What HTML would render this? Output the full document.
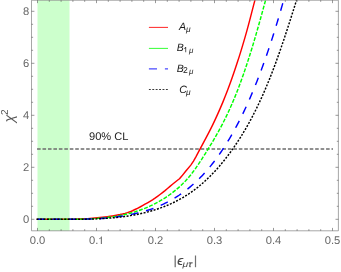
<!DOCTYPE html>
<html><head><meta charset="utf-8"><title>chi2</title>
<style>
html,body{margin:0;padding:0;background:#fff;}
body{width:341px;height:272px;overflow:hidden;}
svg{display:block;will-change:transform;text-rendering:geometricPrecision;font-family:"Liberation Sans",sans-serif;}
</style></head><body>
<svg width="341" height="272" viewBox="0 0 341 272">
<rect width="341" height="272" fill="#fff"/>
<rect x="37.5" y="0.25" width="32" height="230.55" fill="#ccffcc"/>
<clipPath id="c"><rect x="31.5" y="0.25" width="306.9" height="230.55"/></clipPath>
<g clip-path="url(#c)" fill="none" stroke-width="1.45">
<path d="M37.05,149 H333" stroke="#6c6c6c" stroke-width="1.5" stroke-dasharray="3.6 1.853"/>
<path d="M36.75,219.30 L70.00,219.20 L72.50,219.17 L75.00,219.10 L77.50,219.02 L80.00,218.93 L82.50,218.84 L85.00,218.72 L87.50,218.60 L90.00,218.45 L92.50,218.28 L95.00,218.07 L97.50,217.83 L100.00,217.58 L102.50,217.30 L105.00,217.00 L107.50,216.66 L110.00,216.30 L112.50,215.92 L115.00,215.51 L117.50,215.05 L120.00,214.55 L122.50,213.99 L125.00,213.35 L127.50,212.63 L130.00,211.80 L132.50,210.73 L135.00,209.50 L137.50,208.28 L140.00,207.00 L142.50,205.63 L145.00,204.20 L147.50,202.77 L150.00,201.30 L152.50,199.80 L155.00,198.20 L157.50,196.40 L160.00,194.50 L162.50,192.58 L165.00,190.60 L167.50,188.52 L170.00,186.38 L172.50,184.29 L175.00,182.26 L177.50,180.27 L179.50,178.70 L181.80,176.10 L185.65,171.30 L190.80,165.10 L193.49,161.10 L195.76,157.10 L197.86,153.10 L199.98,149.10 L202.14,145.10 L204.28,141.10 L206.41,137.10 L208.51,133.10 L210.57,129.10 L212.56,125.10 L214.46,121.10 L216.31,117.10 L218.12,113.10 L219.88,109.10 L221.60,105.10 L223.28,101.10 L224.91,97.10 L226.49,93.10 L228.03,89.10 L229.52,85.10 L230.97,81.10 L232.39,77.10 L233.77,73.10 L235.13,69.10 L236.45,65.10 L237.76,61.10 L239.04,57.10 L240.29,53.10 L241.52,49.10 L242.72,45.10 L243.90,41.10 L245.07,37.10 L246.21,33.10 L247.32,29.10 L248.41,25.10 L249.47,21.10 L250.51,17.10 L251.54,13.10 L252.58,9.10 L253.61,5.10 L254.67,1.10 L255.74,-2.90 L256.30,-5.00" stroke="#ff0000" stroke-linejoin="round"/>
<path d="M37.50,219.30 L39.48,219.27 L41.47,219.24 L43.46,219.22 L45.45,219.21 L47.44,219.21 L49.44,219.20 L51.44,219.21 L53.44,219.21 L55.44,219.22 L57.45,219.22 L59.45,219.23 L61.46,219.24 L63.47,219.25 L65.48,219.25 L67.49,219.25 L69.50,219.25 L71.51,219.25 L73.52,219.23 L75.53,219.22 L77.54,219.19 L79.55,219.16 L81.56,219.12 L83.56,219.07 L85.57,219.01 L87.57,218.94 L89.58,218.86 L91.58,218.76 L93.58,218.65 L95.58,218.53 L97.57,218.40 L99.56,218.24 L101.55,218.07 L103.54,217.89 L105.52,217.68 L107.50,217.46 L109.48,217.22 L111.45,216.95 L113.42,216.67 L115.38,216.36 L117.34,216.03 L119.30,215.68 L121.25,215.30 L123.19,214.89 L125.13,214.46 L127.07,214.01 L129.00,213.52 L130.92,213.01 L132.83,212.47 L134.74,211.89 L136.65,211.29 L138.55,210.66 L140.43,209.99 L142.31,209.29 L144.18,208.57 L146.04,207.81 L147.89,207.02 L149.73,206.21 L151.55,205.36 L153.36,204.48 L155.16,203.57 L156.93,202.64 L158.70,201.67 L160.44,200.68 L162.17,199.65 L163.88,198.60 L165.57,197.52 L167.24,196.41 L168.89,195.27 L170.52,194.10 L172.13,192.91 L173.71,191.69 L175.27,190.44 L176.80,189.16 L178.31,187.85 L179.79,186.52 L181.24,185.16 L182.67,183.78 L184.07,182.36 L185.45,180.93 L186.79,179.46 L188.11,177.97 L189.40,176.46 L190.66,174.92 L191.89,173.36 L193.10,171.78 L194.29,170.18 L195.45,168.57 L196.60,166.93 L197.73,165.29 L198.85,163.63 L199.95,161.96 L201.04,160.28 L202.13,158.60 L203.21,156.91 L204.28,155.21 L205.35,153.52 L206.41,151.82 L207.47,150.12 L208.52,148.41 L209.57,146.70 L210.61,144.99 L211.64,143.27 L212.67,141.55 L213.68,139.82 L214.69,138.09 L215.69,136.35 L216.68,134.61 L217.67,132.87 L218.64,131.12 L219.60,129.36 L220.55,127.60 L221.49,125.84 L222.42,124.06 L223.33,122.29 L224.24,120.50 L225.13,118.71 L226.01,116.92 L226.87,115.12 L227.73,113.32 L228.57,111.50 L229.41,109.69 L230.23,107.87 L231.04,106.04 L231.84,104.21 L232.63,102.38 L233.41,100.54 L234.18,98.70 L234.94,96.85 L235.69,95.00 L236.44,93.14 L237.17,91.28 L237.89,89.42 L238.61,87.55 L239.32,85.68 L240.02,83.81 L240.71,81.93 L241.39,80.05 L242.07,78.17 L242.74,76.29 L243.40,74.40 L244.06,72.51 L244.71,70.62 L245.35,68.72 L245.99,66.82 L246.62,64.93 L247.24,63.03 L247.86,61.12 L248.48,59.22 L249.09,57.31 L249.69,55.41 L250.29,53.50 L250.89,51.59 L251.48,49.68 L252.07,47.76 L252.65,45.85 L253.23,43.93 L253.80,42.02 L254.37,40.10 L254.94,38.18 L255.50,36.26 L256.06,34.34 L256.62,32.42 L257.17,30.50 L257.72,28.57 L258.27,26.65 L258.81,24.72 L259.35,22.80 L259.89,20.87 L260.43,18.95 L260.96,17.02 L261.50,15.09 L262.03,13.16 L262.56,11.23 L263.08,9.31 L263.61,7.38 L264.14,5.45 L264.66,3.52 L265.18,1.59 L265.70,-0.34 L266.23,-2.27 L266.75,-4.20" stroke="#00ff00" stroke-dasharray="3.95 1.503" stroke-dashoffset="1.25"/>
<path d="M37.50,219.30 L39.50,219.26 L41.49,219.23 L43.49,219.21 L45.49,219.19 L47.49,219.18 L49.49,219.18 L51.49,219.18 L53.49,219.18 L55.49,219.19 L57.49,219.20 L59.49,219.21 L61.49,219.22 L63.49,219.23 L65.50,219.24 L67.50,219.24 L69.50,219.25 L71.50,219.25 L73.50,219.25 L75.50,219.25 L77.51,219.24 L79.51,219.22 L81.51,219.20 L83.51,219.17 L85.51,219.13 L87.51,219.08 L89.51,219.03 L91.50,218.96 L93.50,218.88 L95.50,218.79 L97.50,218.69 L99.49,218.58 L101.48,218.45 L103.48,218.31 L105.47,218.15 L107.46,217.98 L109.45,217.78 L111.44,217.58 L113.43,217.35 L115.41,217.11 L117.40,216.84 L119.38,216.56 L121.36,216.25 L123.34,215.92 L125.32,215.58 L127.29,215.21 L129.27,214.82 L131.23,214.41 L133.19,213.99 L135.15,213.55 L137.10,213.09 L139.04,212.61 L140.98,212.12 L142.91,211.60 L144.83,211.08 L146.74,210.54 L148.64,209.98 L150.53,209.39 L152.42,208.76 L154.29,208.08 L156.14,207.35 L157.99,206.58 L159.82,205.77 L161.64,204.93 L163.45,204.07 L165.24,203.19 L167.01,202.29 L168.78,201.36 L170.52,200.40 L172.25,199.42 L173.97,198.41 L175.67,197.38 L177.35,196.32 L179.02,195.24 L180.67,194.12 L182.31,192.98 L183.93,191.81 L185.53,190.61 L187.11,189.39 L188.67,188.14 L190.22,186.87 L191.75,185.57 L193.26,184.25 L194.75,182.91 L196.22,181.55 L197.67,180.17 L199.10,178.76 L200.51,177.34 L201.91,175.90 L203.28,174.44 L204.63,172.97 L205.97,171.48 L207.28,169.97 L208.58,168.45 L209.86,166.91 L211.13,165.36 L212.37,163.79 L213.60,162.21 L214.82,160.62 L216.01,159.02 L217.20,157.40 L218.36,155.77 L219.51,154.14 L220.65,152.49 L221.77,150.84 L222.88,149.17 L223.97,147.50 L225.05,145.82 L226.12,144.14 L227.17,142.44 L228.21,140.74 L229.24,139.03 L230.25,137.32 L231.26,135.59 L232.25,133.87 L233.23,132.13 L234.20,130.39 L235.16,128.64 L236.11,126.88 L237.05,125.12 L237.98,123.36 L238.90,121.58 L239.81,119.81 L240.71,118.02 L241.60,116.23 L242.48,114.44 L243.36,112.64 L244.22,110.84 L245.07,109.03 L245.92,107.22 L246.76,105.40 L247.58,103.58 L248.40,101.75 L249.21,99.92 L250.02,98.09 L250.81,96.25 L251.60,94.41 L252.38,92.56 L253.16,90.72 L253.92,88.87 L254.68,87.01 L255.43,85.16 L256.17,83.30 L256.91,81.43 L257.64,79.57 L258.37,77.70 L259.09,75.83 L259.80,73.96 L260.50,72.09 L261.21,70.22 L261.90,68.34 L262.59,66.46 L263.27,64.58 L263.95,62.70 L264.62,60.82 L265.29,58.93 L265.95,57.05 L266.61,55.16 L267.26,53.27 L267.90,51.38 L268.55,49.49 L269.18,47.60 L269.81,45.70 L270.44,43.81 L271.06,41.91 L271.68,40.01 L272.29,38.11 L272.90,36.21 L273.50,34.30 L274.10,32.40 L274.70,30.49 L275.29,28.58 L275.88,26.67 L276.46,24.76 L277.04,22.85 L277.62,20.94 L278.19,19.02 L278.76,17.10 L279.32,15.19 L279.88,13.27 L280.44,11.35 L281.00,9.43 L281.56,7.50 L282.11,5.58 L282.67,3.65 L283.22,1.72 L283.77,-0.20 L284.31,-2.13 L284.86,-4.07" stroke="#0000ff" stroke-dasharray="7.8 7.9" stroke-dashoffset="0.65"/>
<path d="M36.50,219.30 L38.49,219.27 L40.48,219.25 L42.47,219.24 L44.46,219.23 L46.46,219.22 L48.46,219.22 L50.46,219.22 L52.46,219.22 L54.46,219.23 L56.46,219.24 L58.46,219.24 L60.47,219.25 L62.47,219.26 L64.48,219.27 L66.49,219.27 L68.49,219.28 L70.50,219.28 L72.51,219.28 L74.52,219.28 L76.53,219.27 L78.53,219.26 L80.54,219.24 L82.55,219.22 L84.56,219.19 L86.56,219.15 L88.57,219.11 L90.58,219.06 L92.58,219.00 L94.58,218.94 L96.59,218.86 L98.59,218.78 L100.59,218.68 L102.59,218.57 L104.59,218.46 L106.58,218.33 L108.58,218.18 L110.57,218.03 L112.56,217.86 L114.55,217.68 L116.54,217.48 L118.52,217.26 L120.50,217.04 L122.48,216.79 L124.46,216.53 L126.43,216.25 L128.40,215.95 L130.37,215.64 L132.34,215.30 L134.30,214.95 L136.26,214.58 L138.22,214.18 L140.17,213.77 L142.12,213.33 L144.06,212.87 L146.00,212.39 L147.94,211.89 L149.87,211.36 L151.79,210.81 L153.70,210.23 L155.61,209.63 L157.51,209.01 L159.40,208.36 L161.29,207.69 L163.16,206.99 L165.02,206.26 L166.87,205.51 L168.71,204.73 L170.54,203.93 L172.35,203.09 L174.16,202.23 L175.95,201.34 L177.72,200.42 L179.48,199.48 L181.22,198.51 L182.95,197.51 L184.66,196.48 L186.36,195.43 L188.04,194.35 L189.69,193.24 L191.33,192.11 L192.96,190.95 L194.56,189.76 L196.15,188.56 L197.71,187.32 L199.26,186.07 L200.80,184.79 L202.31,183.49 L203.81,182.17 L205.29,180.82 L206.75,179.46 L208.20,178.08 L209.63,176.68 L211.04,175.26 L212.44,173.82 L213.82,172.37 L215.19,170.90 L216.54,169.41 L217.87,167.91 L219.19,166.40 L220.49,164.87 L221.78,163.33 L223.06,161.77 L224.31,160.20 L225.56,158.63 L226.79,157.04 L228.00,155.44 L229.20,153.83 L230.39,152.21 L231.56,150.59 L232.72,148.96 L233.87,147.31 L235.00,145.67 L236.12,144.01 L237.22,142.34 L238.32,140.67 L239.40,138.99 L240.47,137.31 L241.52,135.61 L242.57,133.91 L243.60,132.21 L244.62,130.49 L245.63,128.77 L246.62,127.04 L247.61,125.31 L248.58,123.57 L249.55,121.82 L250.50,120.07 L251.44,118.31 L252.37,116.55 L253.29,114.78 L254.20,113.00 L255.10,111.22 L255.99,109.43 L256.87,107.64 L257.74,105.85 L258.60,104.04 L259.46,102.24 L260.30,100.43 L261.14,98.61 L261.96,96.79 L262.78,94.97 L263.59,93.14 L264.39,91.30 L265.18,89.47 L265.97,87.62 L266.74,85.78 L267.51,83.93 L268.27,82.08 L269.03,80.22 L269.78,78.36 L270.52,76.50 L271.25,74.64 L271.98,72.77 L272.70,70.90 L273.41,69.02 L274.12,67.15 L274.83,65.27 L275.52,63.39 L276.21,61.50 L276.90,59.62 L277.58,57.73 L278.26,55.84 L278.93,53.95 L279.59,52.05 L280.25,50.16 L280.91,48.26 L281.56,46.37 L282.21,44.47 L282.85,42.57 L283.49,40.67 L284.13,38.77 L284.77,36.86 L285.40,34.96 L286.02,33.06 L286.65,31.15 L287.27,29.25 L287.89,27.35 L288.50,25.44 L289.12,23.54 L289.73,21.64 L290.34,19.73 L290.94,17.83 L291.55,15.93 L292.16,14.03 L292.76,12.13 L293.36,10.23 L293.96,8.33 L294.56,6.43 L295.16,4.53 L295.76,2.64 L296.36,0.75 L296.96,-1.15 L297.56,-3.04 L298.16,-4.92" stroke="#000" stroke-dasharray="2 1.469"/>
</g>
<path d="M31.5,0.25 H338.4 V230.8 H31.5 Z" fill="none" stroke="#777" stroke-width="0.65"/>
<path d="M37.50,230.8 v-2.9 M37.50,0.25 v2.9 M96.50,230.8 v-2.9 M96.50,0.25 v2.9 M155.50,230.8 v-2.9 M155.50,0.25 v2.9 M214.50,230.8 v-2.9 M214.50,0.25 v2.9 M273.50,230.8 v-2.9 M273.50,0.25 v2.9 M332.50,230.8 v-2.9 M332.50,0.25 v2.9 M49.30,230.8 v-1.6 M49.30,0.25 v1.6 M61.10,230.8 v-1.6 M61.10,0.25 v1.6 M72.90,230.8 v-1.6 M72.90,0.25 v1.6 M84.70,230.8 v-1.6 M84.70,0.25 v1.6 M108.30,230.8 v-1.6 M108.30,0.25 v1.6 M120.10,230.8 v-1.6 M120.10,0.25 v1.6 M131.90,230.8 v-1.6 M131.90,0.25 v1.6 M143.70,230.8 v-1.6 M143.70,0.25 v1.6 M167.30,230.8 v-1.6 M167.30,0.25 v1.6 M179.10,230.8 v-1.6 M179.10,0.25 v1.6 M190.90,230.8 v-1.6 M190.90,0.25 v1.6 M202.70,230.8 v-1.6 M202.70,0.25 v1.6 M226.30,230.8 v-1.6 M226.30,0.25 v1.6 M238.10,230.8 v-1.6 M238.10,0.25 v1.6 M249.90,230.8 v-1.6 M249.90,0.25 v1.6 M261.70,230.8 v-1.6 M261.70,0.25 v1.6 M285.30,230.8 v-1.6 M285.30,0.25 v1.6 M297.10,230.8 v-1.6 M297.10,0.25 v1.6 M308.90,230.8 v-1.6 M308.90,0.25 v1.6 M320.70,230.8 v-1.6 M320.70,0.25 v1.6 M31.5,219.30 h2.9 M338.4,219.30 h-2.9 M31.5,167.30 h2.9 M338.4,167.30 h-2.9 M31.5,115.30 h2.9 M338.4,115.30 h-2.9 M31.5,63.30 h2.9 M338.4,63.30 h-2.9 M31.5,11.30 h2.9 M338.4,11.30 h-2.9 M31.5,206.30 h1.6 M338.4,206.30 h-1.6 M31.5,193.30 h1.6 M338.4,193.30 h-1.6 M31.5,180.30 h1.6 M338.4,180.30 h-1.6 M31.5,154.30 h1.6 M338.4,154.30 h-1.6 M31.5,141.30 h1.6 M338.4,141.30 h-1.6 M31.5,128.30 h1.6 M338.4,128.30 h-1.6 M31.5,102.30 h1.6 M338.4,102.30 h-1.6 M31.5,89.30 h1.6 M338.4,89.30 h-1.6 M31.5,76.30 h1.6 M338.4,76.30 h-1.6 M31.5,50.30 h1.6 M338.4,50.30 h-1.6 M31.5,37.30 h1.6 M338.4,37.30 h-1.6 M31.5,24.30 h1.6 M338.4,24.30 h-1.6" fill="none" stroke="#444" stroke-width="0.55"/>
<g font-size="11.2" fill="#666"><text x="37.50" y="244.1" text-anchor="middle">0.0</text><text x="98.30" y="244.1" text-anchor="end">0.</text><path d="M101.85,236.4 H101.15 C100.9,237.3 100.0,238.0 99.1,238.4 V239.3 C99.8,239.05 100.45,238.6 100.85,238.2 V244.1 H101.85 Z" stroke="none"/><text x="155.50" y="244.1" text-anchor="middle">0.2</text><text x="214.50" y="244.1" text-anchor="middle">0.3</text><text x="273.50" y="244.1" text-anchor="middle">0.4</text><text x="332.50" y="244.1" text-anchor="middle">0.5</text><text x="29.3" y="223.25" font-size="11.2" text-anchor="end">0</text><text x="29.3" y="171.25" font-size="11.2" text-anchor="end">2</text><text x="29.3" y="119.25" font-size="11.2" text-anchor="end">4</text><text x="29.3" y="67.25" font-size="11.2" text-anchor="end">6</text><text x="29.3" y="15.25" font-size="11.2" text-anchor="end">8</text></g>
<!-- legend -->
<g fill="none" stroke-width="1.05">
<path d="M148.9,27.4 H168" stroke="#ff2e2e"/>
<path d="M148.9,48.4 H168" stroke="#3dff3d"/>
<path d="M148.9,68.8 H168" stroke="#4a4aff" stroke-width="1.25" stroke-dasharray="8.1 7.9"/>
<path d="M148.9,89.5 H168.2" stroke="#3a3a3a" stroke-width="1.2" stroke-dasharray="1.9 1.5"/>
</g>
<g font-size="10.6" fill="#1a1a1a" font-style="italic">
<text x="178.9" y="29.8">A</text><text x="186.0" y="31.5" font-size="8.4">μ</text>
<text x="176.7" y="50.8">B</text><path d="M184.2,48.4 L185.5,47.1 H186.15 V52.2 H185.4 V48.3 L184.5,49.0 Z" fill="#222" stroke="none"/><text x="189" y="52.5" font-size="8">μ</text>
<text x="176.7" y="71.8">B</text><text x="182.9" y="73.3" font-size="8.6" font-style="normal">2</text><text x="189" y="73.5" font-size="8">μ</text>
<text x="179.2" y="92.8">C</text><text x="186.1" y="94.5" font-size="8.4">μ</text>
</g>
<text x="89" y="139.6" font-size="11.1" fill="#222">90% CL</text>
<g transform="translate(13.6,122.6) rotate(-90)" fill="#555"><text font-size="14.5" x="0" y="0" font-style="italic">χ</text><text font-size="10.1" x="7.5" y="-5.65">2</text></g>
<g fill="#555"><rect x="174.6" y="255.5" width="1.15" height="11.7" fill="#606060"/><rect x="194.9" y="255.5" width="1.2" height="11.7" fill="#707070"/>
<text x="177.2" y="265.15" font-size="13.3" font-style="italic" fill="#484848" stroke="#484848" stroke-width="0.15">ϵ</text>
<text transform="translate(182.6,266.9) scale(1.25,1)" font-size="8.3" font-style="italic" fill="#484848">μ</text>
<text transform="translate(188.1,266.9) scale(1.3,1)" font-size="8.3" font-style="italic" fill="#484848" stroke="#484848" stroke-width="0.12">τ</text></g>
</svg>
</body></html>
